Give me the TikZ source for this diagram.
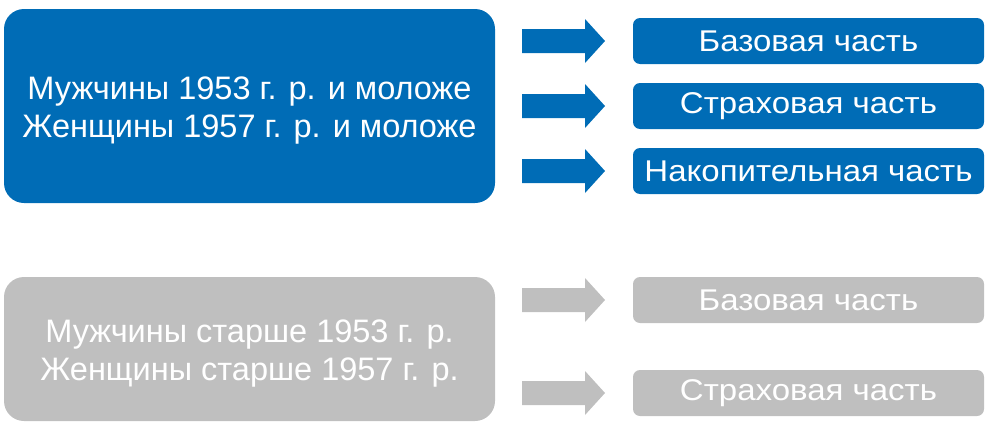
\documentclass[tikz,border=0pt]{standalone}
\usepackage{fontspec}
\setmainfont{Liberation Sans}
\definecolor{pfrblue}{RGB}{0,108,182}
\definecolor{pfrgrey}{RGB}{191,191,191}
\begin{document}
\begin{tikzpicture}[x=1pt, y=-1pt, every node/.style={align=center, text=white},
    bigbox/.style={rounded corners=20pt, minimum width=491pt, inner sep=0pt},
    bigtext/.style={yshift=-4.5pt, font=\fontsize{32.5}{38.5}\selectfont},
    partbox/.style={rounded corners=7pt, minimum width=351pt, minimum height=46pt, inner sep=0pt, font=\fontsize{30}{34}\selectfont\addfontfeature{FakeStretch=1.1}}]
    \useasboundingbox (0,0) rectangle (985,423);
    % block arrow from a named tail point
    \newcommand{\blockarrow}[2]{\fill[#2] (#1) ++(0,-12) -- ++(63,0) -- ++(0,-10) -- ++(20,22) -- ++(-20,22) -- ++(0,-10) -- ++(-63,0) -- cycle;}
    % born 1953/1957 and younger
    \node[bigbox, fill=pfrblue, minimum height=194pt, label={[bigtext]center:{Мужчины 1953 г. р. и моложе\\Женщины 1957 г. р. и моложе}}] (young) at (249.5,106) {};
    \foreach \y/\name/\txt in {41/ybase/Базовая часть, 106/yins/Страховая часть, 171/yfund/Накопительная часть}{
        \coordinate (arr-\name) at (522,\y);
        \blockarrow{arr-\name}{pfrblue}
        \node[partbox, fill=pfrblue] (\name) at (808.5,\y) {\txt};
    }
    % older
    \node[bigbox, fill=pfrgrey, minimum height=144pt, label={[bigtext]center:{Мужчины старше 1953 г. р.\\Женщины старше 1957 г. р.}}] (old) at (249.5,349) {};
    \foreach \y/\name/\txt in {300/obase/Базовая часть, 393/oins/Страховая часть}{
        \coordinate (arr-\name) at (522,\y);
        \blockarrow{arr-\name}{pfrgrey}
        \node[partbox, fill=pfrgrey] (\name) at (808.5,\y) {\txt};
    }
\end{tikzpicture}
\end{document}
